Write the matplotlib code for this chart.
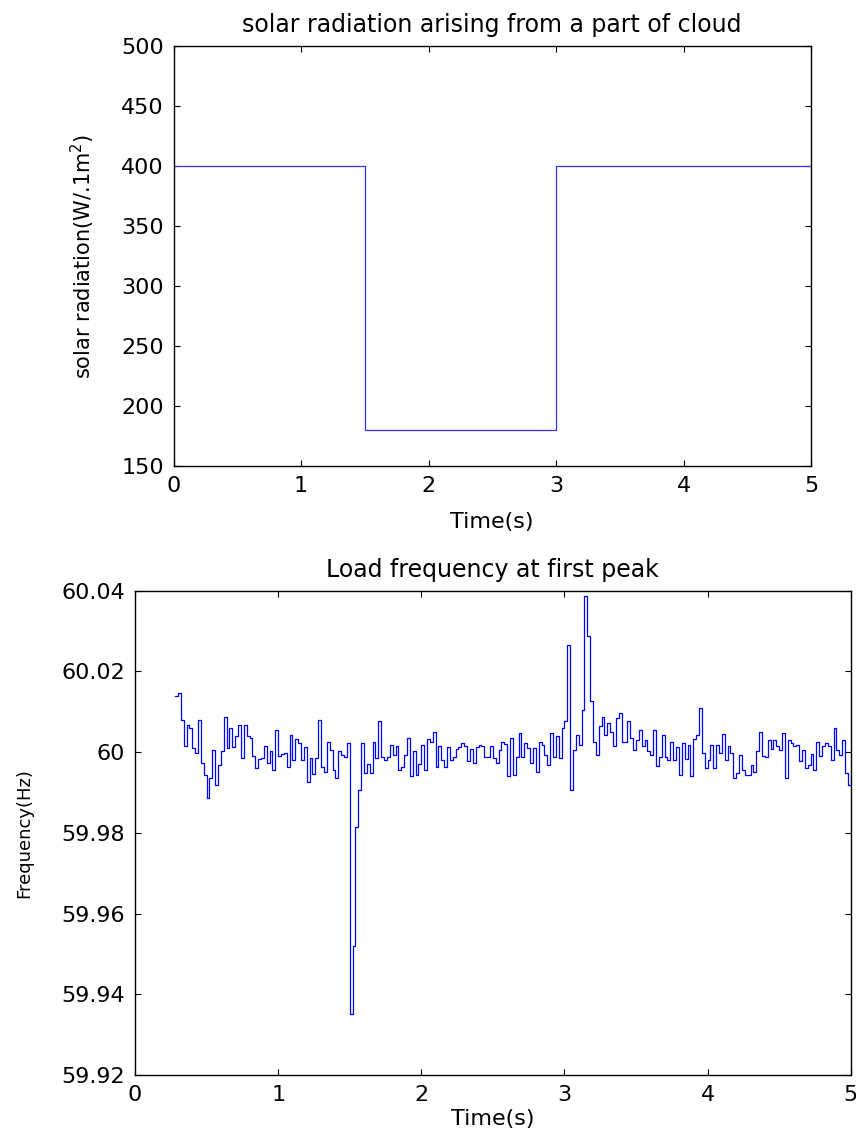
import numpy as np
import matplotlib
matplotlib.use("Agg")
import matplotlib.pyplot as plt

# top panel: solar radiation steps
sun_times = [0, 1.5, 3.0, 5.0]
sun_values = [400, 180, 400, 400]
sun_yticks = [150, 200, 250, 300, 350, 400, 450, 500]

# bottom panel: load frequency, sampled every 0.02 s from 0.28 s
sample_start = 0.28
sample_step = 0.02
# deviation from 60 Hz in mHz
freq_dev_mhz = [
    13.8, 14.6, 8.0, 1.6, 6.8, 6.0, 1.0, -0.2, 8.0, -2.7,
    -5.6, -11.4, -6.4, 0.6, -8.1, -3.1, 0.2, 8.7, 1.0, 6.0,
    1.2, 4.1, 6.8, -1.5, 6.8, 3.9, 3.5, -0.9, -4.0, -1.7,
    -1.5, 1.6, -2.7, 0.2, -4.4, 5.5, -0.9, -0.5, -0.1,
    -3.6, 4.3, -1.9, 3.2, 2.2, -1.9, 1.2, -7.5, -1.5, -5.4,
    -1.5, 7.9, -3.6, -4.8, 2.6, 0.6, -4.4, -6.5, 0.4, -0.7,
    -1.1, 2.2, -65.0, -48.0, -18.5, -9.5, 2.2, -5.2,
    -3.0, -5.2, 2.6, -1.5, 7.6, -1.1, -1.9, -1.1, 1.8, -0.7, 1.4, -4.4,
    -3.6, -0.7, 3.5, -6.0, 0.2, -5.6, -2.9, 1.8, -4.4, 3.2,
    2.6, 5.1, -3.6, 1.6, -1.9, -3.6, 1.2, -1.9, -1.1, 0.7,
    1.2, 2.2, 1.6, -2.3, 0.7, -2.6, 1.2, 1.8, 1.6, -1.2,
    -1.1, 1.6, -1.5, -2.7, 0.6, 2.6, 2.1, -6.0, 3.5, -5.6,
    -1.1, 4.7, -1.1, 2.2, 1.0, -2.7, 1.0, -4.8, 2.6, 1.8,
    -0.7, -3.1, 4.7, -1.1, 3.9, -1.5, 6.0, 7.6, 26.6, -9.3,
    0.6, 4.3, 1.8, 10.5, 38.6, 28.7, 12.6, 2.6, -0.7, 6.4,
    8.8, 4.3, 7.2, 5.1, 1.4, 8.4, 9.7, 2.6, 2.6, 7.6,
    3.5, 0.6, 3.1, 5.5, 1.6, 3.1, 0.4, -0.7, 5.5, -3.4,
    -1.1, 4.3, -1.1, -1.9, 2.6, -1.9, 1.2, -5.6, 2.2, -1.7,
    1.8, -6.0, 3.2, 4.3, 10.9, -0.2, -4.0, -1.9, 1.8, -4.0,
    1.8, -0.2, 4.5, -1.9, 1.4, -0.2, -6.5, -5.2, -0.7, -4.4,
    -5.6, -5.6, -3.1, -4.8, 0.2, 5.1, -0.9, -1.1, 3.1, 0.7,
    3.1, 1.4, 0.6, 4.7, -6.5, 2.9, 2.2, 1.4, 1.8, -2.3,
    0.6, -4.0, -3.1, -0.4, -4.4, 2.6, -0.9, 1.6, 2.2, 1.6,
    -1.9, 6.0, 0.6, -0.7, 3.1, -5.2, -8.1, -5.6,
]
freq_yticks = [59.92, 59.94, 59.96, 59.98, 60.0, 60.02, 60.04]
freq_ylabels = ['59.92', '59.94', '59.96', '59.98', '60', '60.02', '60.04']
time_ticks = [0, 1, 2, 3, 4, 5]

t = sample_start + sample_step * np.arange(len(freq_dev_mhz))
freq = 60 + np.array(freq_dev_mhz) / 1000.0

plt.rcParams['font.family'] = ['DejaVu Sans']
plt.rcParams['mathtext.default'] = 'regular'

fig = plt.figure(figsize=(8.56, 11.39), dpi=100)

def style(ax):
    ax.tick_params(direction='in', length=4, width=0.8, top=True, right=True,
                   labelsize=16, pad=7, colors='black')
    for s in ax.spines.values():
        s.set_linewidth(1.0)
        s.set_color('black')

# top plot
ax1 = fig.add_axes([173.5/856, 1-466/1139, (811-173.5)/856, 420/1139])
ax1.plot(sun_times, sun_values, drawstyle='steps-post', color='#3333ff', lw=0.9)
ax1.set_xlim(0, 5)
ax1.set_ylim(150, 500)
ax1.set_xticks(time_ticks)
ax1.set_yticks(sun_yticks)
style(ax1)
ax1.set_title('solar radiation arising from a part of cloud', fontsize=17, pad=10)
ax1.set_xlabel('Time(s)', fontsize=16)
ax1.set_ylabel('solar radiation(W/.1m$^2$)', fontsize=15)
ax1.xaxis.set_label_coords(0.5, -0.11)
ax1.yaxis.set_label_coords(-0.12, 0.5)

# bottom plot
ax2 = fig.add_axes([135/856, 1-1075/1139, (850.7-135)/856, (1075-590.7)/1139])
ax2.plot(t, freq, drawstyle='steps-post', color='#0000ff', lw=0.9)
ax2.set_xlim(0, 5)
ax2.set_ylim(59.92, 60.04)
ax2.set_xticks(time_ticks)
ax2.set_yticks(freq_yticks, freq_ylabels)
style(ax2)
ax2.set_title('Load frequency at first peak', fontsize=17, pad=10)
ax2.set_xlabel('Time(s)', fontsize=16)
ax2.set_ylabel('Frequency(Hz)', fontsize=13)
ax2.xaxis.set_label_coords(0.5, -0.07)
ax2.yaxis.set_label_coords(-0.142, 0.5)

fig.savefig('out.png', dpi=100)
